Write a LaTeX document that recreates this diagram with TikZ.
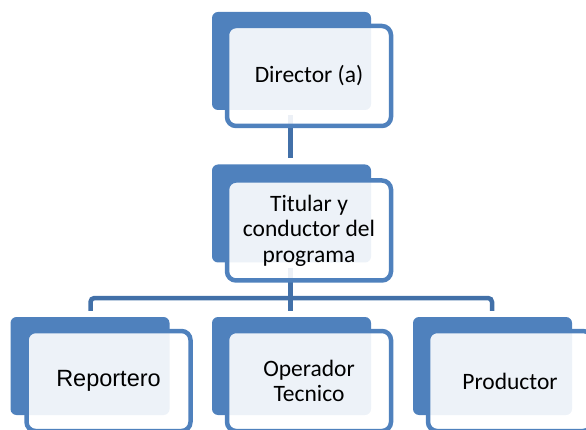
\documentclass[tikz,border=0pt]{standalone}
\usepackage{fontspec}
\setmainfont{Carlito}
\newfontfamily\arialfont{Liberation Sans}
\usetikzlibrary{calc}
\definecolor{boxblue}{RGB}{79,129,189}
\definecolor{lineblue}{RGB}{66,112,168}
\tikzset{
  backbox/.style={fill=boxblue, draw=none, rounded corners=6pt, minimum width=159pt, minimum height=98pt, inner sep=0pt},
  frontbox/.style={fill=white, fill opacity=0.9, text opacity=1, draw=boxblue, draw opacity=1, line width=4.5pt, rounded corners=9pt, minimum width=164pt, minimum height=100pt, inner sep=0pt, align=center, font=\fontsize{23.5}{25.5}\selectfont},
  conn/.style={draw=lineblue, line width=4.5pt}
}
\begin{document}
\begin{tikzpicture}[x=1pt,y=-1pt]
\useasboundingbox (0,0) rectangle (586,430);
\clip (0,0) rectangle (586,430);
% back boxes
\node[backbox] (dirB) at (291.5,61) {};
\node[backbox] (titB) at (291.5,213.5) {};
\node[backbox] (repB) at (90,366) {};
\node[backbox] (opB) at (291.5,366) {};
\node[backbox] (proB) at (492.5,366) {};
% connectors
\coordinate (bar) at (290.5,298);
\draw[conn] ($(dirB.south)+(-1,5)$) -- ($(titB.north)+(-1,-6)$);
\draw[conn] ($(titB.south)+(-1,5)$) -- ($(opB.north)+(-1,-6)$);
\draw[conn, rounded corners=4pt] ($(repB.north)+(0.5,-6)$) |- (bar) -| ($(proB.north)+(-0.5,-6)$);
% front boxes
\node[frontbox] (dirF) at (309,76) {Director (a)};
\node[frontbox] (titF) at (309,230.5) {Titular y\\conductor del\\programa};
\node[frontbox, font=\arialfont\fontsize{23.5}{25.5}\selectfont] (repF) at (108.5,381) {Reportero};
\node[frontbox] (opF) at (309,381) {Operador\\Tecnico};
\node[frontbox] (proF) at (510,381) {Productor};
\end{tikzpicture}
\end{document}
